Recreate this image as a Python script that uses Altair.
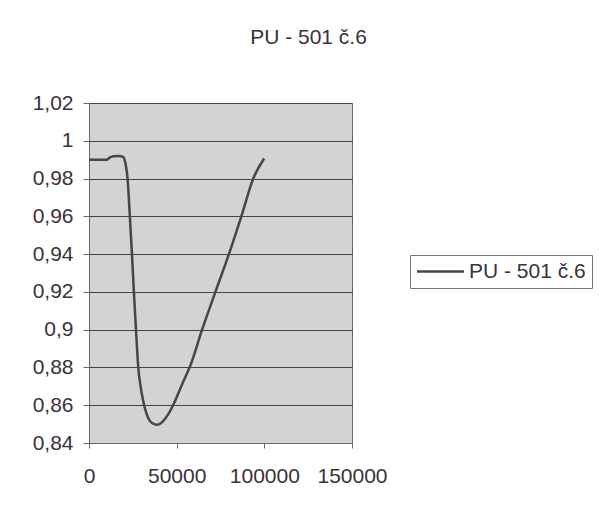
import altair as alt
import pandas as pd

series_name = "PU - 501 č.6"
x_vals = [0, 5000, 10000, 12000, 14000, 17000, 19500, 20800, 22000, 23300, 24500, 25600,
          26800, 28100, 29600, 31200, 32800, 34500, 36500, 38600, 41000, 43500, 46000,
          48500, 51000, 54000, 57800, 64500, 72100, 79800, 86900, 93700, 99900]
y_vals = [0.99, 0.99, 0.99, 0.9912, 0.9918, 0.992, 0.9915, 0.988, 0.98, 0.96, 0.94, 0.92,
          0.90, 0.88, 0.869, 0.861, 0.8555, 0.852, 0.8503, 0.8497, 0.8505, 0.853, 0.8565,
          0.861, 0.8665, 0.873, 0.881, 0.90, 0.92, 0.94, 0.96, 0.98, 0.9906]
x_ticks = [0, 50000, 100000, 150000]
y_ticks = [0.84, 0.86, 0.88, 0.90, 0.92, 0.94, 0.96, 0.98, 1.00, 1.02]

df = pd.DataFrame({"x": x_vals, "y": y_vals, "s": [series_name] * len(x_vals)})

font = "Liberation Sans"
text_color = "#3a3238"
fs = 21

chart = alt.Chart(df).mark_line(strokeWidth=2.5, interpolate="monotone").encode(
    x=alt.X("x:Q", scale=alt.Scale(domain=[0, 150000], nice=False),
            axis=alt.Axis(values=x_ticks, format="d", grid=False, title=None,
                          labelFontSize=fs, labelFont=font, labelColor=text_color,
                          labelPadding=17, tickSize=5, tickColor="#666",
                          domainColor="#666", labelFlush=False)),
    y=alt.Y("y:Q", scale=alt.Scale(domain=[0.84, 1.02], nice=False, zero=False),
            axis=alt.Axis(values=y_ticks, grid=True, gridColor="#454545", gridWidth=1,
                          title=None, labelFontSize=fs, labelFont=font,
                          labelColor=text_color, labelPadding=10, tickSize=6,
                          tickColor="#666", domainColor="#666",
                          labelExpr="replace(format(datum.value, '.2~f'), '.', ',')")),
    color=alt.Color("s:N", scale=alt.Scale(range=["#4b4150"]),
                    legend=alt.Legend(title=None, orient="none", legendX=321, legendY=152,
                                      symbolType="M-3,0H3", symbolSize=245,
                                      symbolOffset=14, labelOffset=18,
                                      symbolStrokeWidth=2.5, labelFontSize=fs,
                                      labelFont=font, labelColor=text_color,
                                      strokeColor="#777", padding=6,
                                      fillColor="white")),
).properties(
    width=263,
    height=340,
    background="white",
    title=alt.TitleParams(series_name, fontSize=fs, font=font, color=text_color,
                          fontWeight="normal", anchor="middle", dx=88, offset=44),
    autosize=alt.AutoSizeParams(type="none"),
    padding={"left": 81, "top": 95, "right": 245, "bottom": 53},
).configure_view(
    fill="#d3d3d3", stroke="#666", strokeWidth=1
)

chart.save("out.html", embed_options={"renderer": "svg", "actions": False})
